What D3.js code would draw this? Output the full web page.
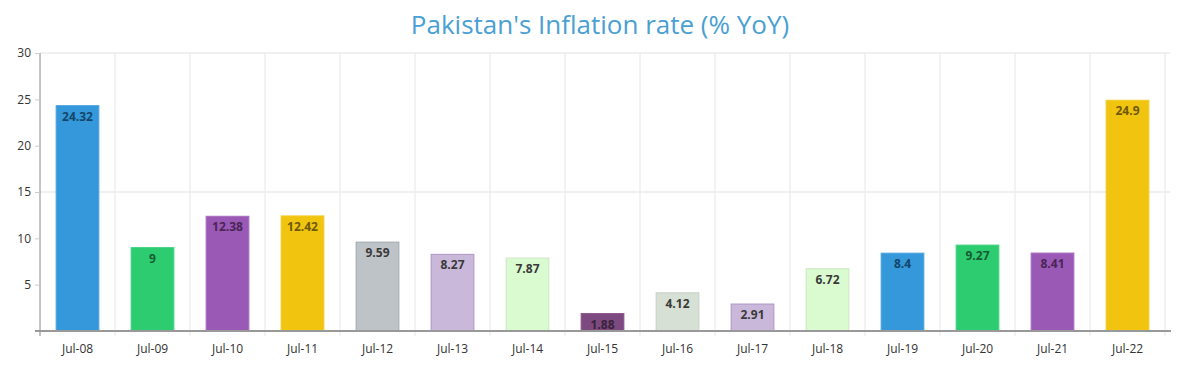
<!DOCTYPE html>
<html>
<head>
<meta charset="utf-8">
<script src="https://cdn.jsdelivr.net/npm/d3@7"></script>
<style>
  body { margin: 0; background: #fff; }
  svg text { font-family: "Open Sans", sans-serif; }
</style>
</head>
<body>
<div id="chart"></div>
<script>
// data
const categories = ["Jul-08","Jul-09","Jul-10","Jul-11","Jul-12","Jul-13","Jul-14","Jul-15","Jul-16","Jul-17","Jul-18","Jul-19","Jul-20","Jul-21","Jul-22"];
const values = [24.32, 9, 12.38, 12.42, 9.59, 8.27, 7.87, 1.88, 4.12, 2.91, 6.72, 8.4, 9.27, 8.41, 24.9];
const barColors = ["#3498db","#2ecc71","#9b59b6","#f1c40f","#bdc3c7","#c9b8d9","#dafad0","#7d4a80","#d6e0d4","#c9b8d9","#dafad0","#3498db","#2ecc71","#9b59b6","#f1c40f"];
const yTicks = [5, 10, 15, 20, 25, 30];
const gridTicks = [15, 30];

const width = 1200, height = 369;
const margin = {top: 53, right: 35, bottom: 38, left: 40};

const svg = d3.select("#chart").append("svg")
    .attr("width", width).attr("height", height);

svg.append("text")
    .attr("x", width / 2).attr("y", 34)
    .attr("text-anchor", "middle")
    .attr("font-size", 26)
    .attr("fill", "#4a9fd3")
    .text("Pakistan's Inflation rate (% YoY)");

const x = d3.scaleBand()
    .domain(categories)
    .range([margin.left, width - margin.right])
    .paddingInner(0.43).paddingOuter(0.215);

const y = d3.scaleLinear()
    .domain([0, 30])
    .range([height - margin.bottom, margin.top]);

// band boundaries for vertical grid
const step = x.step();
const bounds = d3.range(1, categories.length + 1).map(i => margin.left + i * step);

svg.append("g").selectAll("line")
    .data(bounds)
    .join("line")
    .attr("x1", d => d).attr("x2", d => d)
    .attr("y1", y(30)).attr("y2", y(0) + 5)
    .attr("stroke", "#e6e6e6");

svg.append("g").selectAll("line")
    .data(gridTicks)
    .join("line")
    .attr("x1", margin.left).attr("x2", width - margin.right + 5)
    .attr("y1", d => y(d)).attr("y2", d => y(d))
    .attr("stroke", "#ebebeb").attr("stroke-width", 1.5);

// y axis
const yAxis = svg.append("g")
    .attr("transform", `translate(${margin.left},0)`)
    .call(d3.axisLeft(y).tickValues(yTicks).tickSize(5).tickSizeOuter(0));
yAxis.select(".domain").attr("stroke", "#888").attr("d", `M0,${y(30)}V${y(0) + 5}`);
yAxis.selectAll(".tick line").attr("stroke", "#ccc");
yAxis.selectAll(".tick text").attr("font-size", 12).attr("fill", "#333").attr("x", -9);

// bars
const bars = svg.append("g").selectAll("g")
    .data(values)
    .join("g");

bars.append("rect")
    .attr("x", (d, i) => x(categories[i]))
    .attr("y", d => y(d))
    .attr("width", x.bandwidth())
    .attr("height", d => y(0) - y(d))
    .attr("fill", (d, i) => barColors[i])
    .attr("stroke", (d, i) => {
        const c = d3.hsl(barColors[i]);
        if (c.l > 0.85) return d3.hsl(c.h, c.s * 0.5, c.l - 0.06);
        return c.l > 0.75 ? c.darker(0.4) : c.brighter(0.3);
    });

bars.append("text")
    .attr("x", (d, i) => x(categories[i]) + x.bandwidth() / 2)
    .attr("y", d => y(d) + 15)
    .attr("text-anchor", "middle")
    .attr("font-size", 12)
    .attr("font-weight", "bold")
    .attr("fill", (d, i) => {
        const c = d3.hsl(barColors[i]);
        return c.l > 0.7 ? "#3a3a3a" : c.darker(2.2);
    })
    .text(d => d);

// x axis
const xAxis = svg.append("g")
    .attr("transform", `translate(0,${y(0)})`)
    .call(d3.axisBottom(x).tickSize(0).tickPadding(13));
xAxis.select(".domain").attr("stroke", "#999").attr("stroke-width", 2)
    .attr("d", `M${margin.left - 5},0H${width - margin.right + 6}`);
xAxis.selectAll(".tick text").attr("font-size", 12).attr("fill", "#333");
</script>
</body>
</html>
